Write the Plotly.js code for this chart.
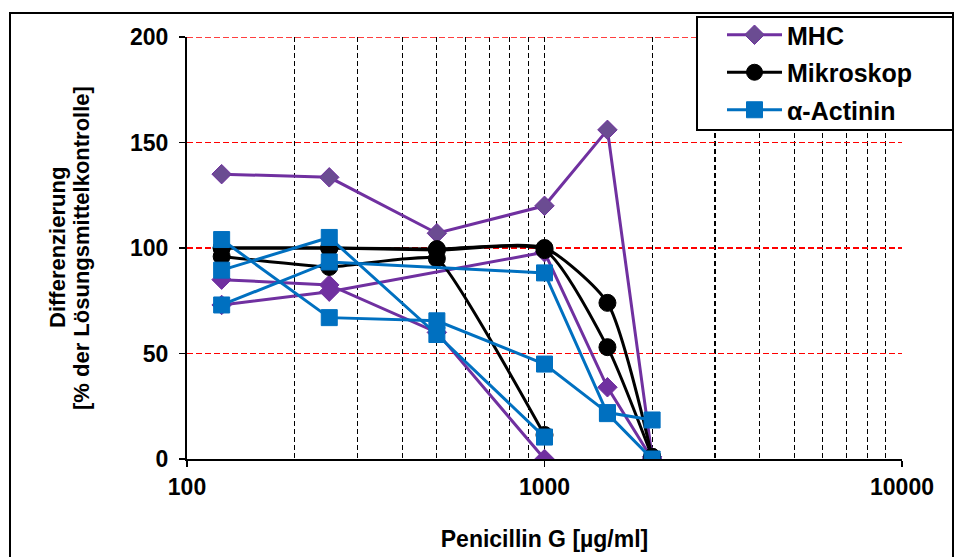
<!DOCTYPE html>
<html>
<head>
<meta charset="utf-8">
<script src="https://cdn.plot.ly/plotly-3.0.1.min.js"></script>
<style>html,body{margin:0;padding:0;background:#fff;}#chart{width:954px;height:557px;}</style>
</head>
<body>
<div id="chart"></div>
<script>
// Series names
const seriesNames = ["MHC", "Mikroskop", "α-Actinin"];

// MHC replicates
const mhcX1 = [125, 250, 500, 1000, 1500, 2000];
const mhcY1 = [135, 133.5, 107, 120, 156, 1];
const mhcX2 = [125, 250, 500, 1000];
const mhcY2 = [85, 82.5, 60, 0];
const mhcX3 = [125, 250, 1000, 1500, 2000];
const mhcY3 = [73, 79.3, 98, 34, 0];

// Mikroskop replicates
const mikX1 = [125, 250, 500, 1000, 1500, 2000];
const mikY1 = [100, 100, 99.5, 100, 74, 1];
const mikX2 = [125, 250, 500, 1000, 1500, 2000];
const mikY2 = [100, 100, 99, 99, 53, 1];
const mikX3 = [125, 250, 500, 1000];
const mikY3 = [96, 91, 95, 11.4];

// alpha-Actinin replicates
const actX1 = [125, 250, 500, 1000, 1500, 2000];
const actY1 = [104, 67, 65.5, 45, 22, 18.5];
const actX2 = [125, 250, 500, 1000];
const actY2 = [89.5, 105, 59, 10.4];
const actX3 = [125, 250, 1000, 1500, 2000];
const actY3 = [73, 93.4, 88.2, 21.5, 0];

// Axis ticks
const xMajorTicks = [100, 1000, 10000];
const xMinorTicks = [200,300,400,500,600,700,800,900,2000,3000,4000,5000,6000,7000,8000,9000];
const yTicks = [0, 50, 100, 150, 200];
const yTop = 200;

const FONT = "Liberation Sans, Arial, sans-serif";
const purple = "#7030A0", black = "#000000", blue = "#0070C0";

function mk(x, y, name, group, color, symbol, size, show, shape, fill, smooth) {
  return {
    x: x, y: y, name: name, legendgroup: group, showlegend: show,
    type: "scatter", mode: "lines+markers",
    line: {color: color, width: 3, shape: shape || "linear", smoothing: smooth || 0.6},
    marker: {symbol: symbol, size: size, color: fill || color, line: {color: color, width: 1}},
    hoverinfo: "skip"
  };
}

const traces = [
  mk(mhcX1, mhcY1, seriesNames[0], "g1", purple, "diamond", 15, true, "linear", "#6B4C92"),
  mk(mhcX2, mhcY2, seriesNames[0], "g1", purple, "diamond", 15, false),
  mk(mhcX3, mhcY3, seriesNames[0], "g1", purple, "diamond", 15, false),
  mk(mikX1, mikY1, seriesNames[1], "g2", black, "circle", 17, true, "spline"),
  mk(mikX2, mikY2, seriesNames[1], "g2", black, "circle", 17, false, "spline"),
  mk(mikX3, mikY3, seriesNames[1], "g2", black, "circle", 17, false, "spline", null, 0.3),
  mk(actX1, actY1, seriesNames[2], "g3", blue, "square", 16, true),
  mk(actX2, actY2, seriesNames[2], "g3", blue, "square", 16, false),
  mk(actX3, actY3, seriesNames[2], "g3", blue, "square", 16, false)
];

const px = v => (v - 187) / 715;
const py = v => (459 - v) / 422;

const layout = {
  width: 954, height: 557,
  margin: {l: 187, r: 52, t: 37, b: 98},
  paper_bgcolor: "#ffffff", plot_bgcolor: "#ffffff",
  font: {family: FONT, color: "#000", size: 22},
  xaxis: {
    type: "log", range: [2, 4],
    tickvals: xMajorTicks, ticktext: xMajorTicks.map(String),
    tickfont: {family: FONT, size: 23, weight: "bold"},
    ticks: "outside", ticklen: 6, tickwidth: 1.5, tickcolor: "#000",
    showline: true, linecolor: "#000", linewidth: 2,
    showgrid: true, gridcolor: "#000", gridwidth: 1.2, griddash: "5px,3px",
    minor: {tickvals: xMinorTicks, showgrid: true, gridcolor: "#000", gridwidth: 1.2, griddash: "5px,3px", ticks: ""},
    zeroline: false, fixedrange: true,
    title: {text: "<b>Penicillin G [µg/ml]</b>", font: {family: FONT, size: 23}, standoff: 32}
  },
  yaxis: {
    range: [0, 200], tickvals: yTicks,
    tickfont: {family: FONT, size: 23, weight: "bold"},
    ticks: "outside", ticklen: 6, tickwidth: 1.5, tickcolor: "#000",
    ticklabelstandoff: 6,
    showline: true, linecolor: "#000", linewidth: 2,
    showgrid: true, gridcolor: "#ff0000", gridwidth: 1.2, griddash: "6px,3px",
    zeroline: false, fixedrange: true
  },
  legend: {
    x: px(722), y: py(12), xanchor: "left", yanchor: "top",
    bgcolor: "rgba(0,0,0,0)", borderwidth: 0,
    font: {family: FONT, size: 25, weight: "bold"},
    itemwidth: 55, tracegroupgap: 2, traceorder: "grouped"
  },
  annotations: [
    {text: "<b>Differenzierung</b>", xref: "paper", yref: "paper", x: px(57), y: py(248),
     showarrow: false, textangle: -90, font: {family: FONT, size: 22}, xanchor: "center", yanchor: "middle"},
    {text: "<b>[% der Lösungsmittelkontrolle]</b>", xref: "paper", yref: "paper", x: px(81), y: py(248),
     showarrow: false, textangle: -90, font: {family: FONT, size: 22}, xanchor: "center", yanchor: "middle"}
  ],
  shapes: [
    {type: "line", xref: "paper", yref: "y", x0: 0, x1: 1, y0: yTop, y1: yTop,
     line: {color: "#ff0000", width: 1.5, dash: "6px,3px"}, layer: "above"},
    {type: "rect", xref: "paper", yref: "paper", x0: px(10), x1: px(953), y0: py(570), y1: py(13),
     line: {color: "#000", width: 2}, fillcolor: "rgba(0,0,0,0)", layer: "above"},
    {type: "rect", xref: "paper", yref: "paper", x0: px(697), x1: px(953), y0: py(130), y1: py(17),
     line: {color: "#000", width: 2}, fillcolor: "#ffffff", layer: "above"}
  ]
};

Plotly.newPlot("chart", traces, layout, {displayModeBar: false, staticPlot: true});
</script>
</body>
</html>
